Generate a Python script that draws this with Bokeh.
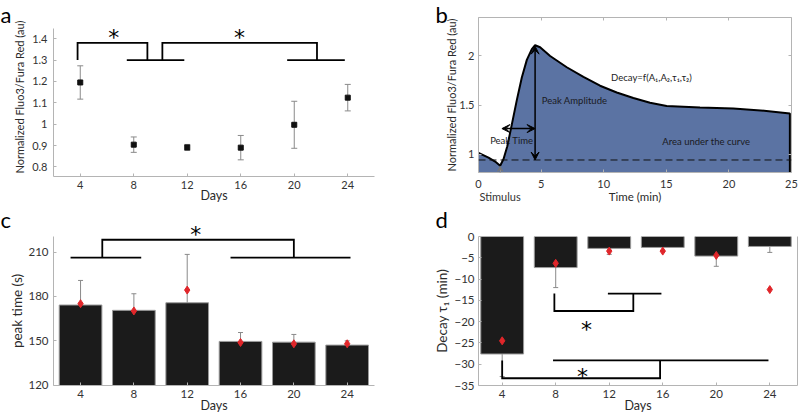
from bokeh.plotting import figure
from bokeh.layouts import gridplot
from bokeh.models import (Range1d, FixedTicker, LinearAxis, Label, Arrow, VeeHead,
                          TeeHead, Whisker, ColumnDataSource, Span)
from bokeh.embed import file_html
from bokeh.resources import INLINE

FONT = "Lato"
STARFONT = "DejaVu Sans"
AXC = "#b4b4b4"
TICKC = "#333333"
ERRC = "#8a8a8a"

# ---------------- data ----------------
days = [4, 8, 12, 16, 20, 24]

# panel a: mean +/- error
a_mean = [1.195, 0.904, 0.891, 0.890, 0.997, 1.124]
a_err = [0.078, 0.036, 0.014, 0.057, 0.110, 0.062]
a_yticks = [0.8, 0.9, 1.0, 1.1, 1.2, 1.3, 1.4]
a_ylabels = ["0.8", "0.9", "1", "1.1", "1.2", "1.3", "1.4"]
a_brackets = [(3.8, 9.02, 1.30, 1.38), (10.14, 21.7, 1.30, 1.38)]
a_groups = [(7.48, 11.78, 1.30), (19.47, 23.78, 1.30)]
a_stars = [(6.5, 1.431), (15.9, 1.431)]

# panel b: example transient
b_time = [0, 0.8, 1.33, 1.73, 2.0, 2.3, 2.66, 3.06, 3.46, 3.86, 4.26, 4.52, 4.92,
          5.72, 7.05, 8.38, 9.71, 11.04, 12.37, 13.7, 15.03, 17.69, 20.35, 23.0, 24.87]
b_ratio = [1.013, 0.964, 0.924, 0.882, 0.95, 1.08, 1.30, 1.55, 1.78, 1.96, 2.07, 2.109, 2.089,
           2.0, 1.885, 1.786, 1.697, 1.628, 1.572, 1.523, 1.49, 1.474, 1.464, 1.44, 1.414]
b_base = 0.94
b_peak_t = 4.52
b_peak = 2.10
b_peak_time_y = 1.26
b_stim_t = 1.73
b_xticks = [0, 5, 10, 15, 20, 25]
b_xlabels = ["0", "5", "10", "15", "20", "25"]
b_yticks = [1, 1.5, 2]
b_ylabels = ["1", "1.5", "2"]

# panel c: peak time
c_bar = [174.2, 170.6, 175.7, 149.6, 149.1, 147.1]
c_mean = [175.1, 170.2, 184.3, 148.9, 148.0, 148.0]
c_err = [16.6, 11.2, 32.7, 6.0, 5.2, 2.9]
c_yticks = [120, 150, 180, 210]
c_brackets = [(5.63, 20.0, 206.2, 218.3)]
c_groups = [(3.25, 8.55, 206.2), (15.25, 24.25, 206.2)]
c_stars = [(12.65, 225.7)]

# panel d: decay tau1
d_bar = [-27.6, -7.3, -2.8, -2.57, -4.6, -2.34]
d_mean = [-24.5, -6.3, -3.43, -3.43, -4.44, -12.47]
d_err = [5.3, 4.7, 1.4, 0.9, 2.4, 1.4]
d_yticks = [0, -5, -10, -15, -20, -25, -30, -35]
d_brackets = [(7.9, 13.8, -13.4, -17.5), (4.0, 15.8, -29.1, -33.3)]
d_groups = [(11.9, 15.9, -13.4), (7.8, 23.9, -29.1)]
d_stars = [(10.3, -20.4), (10.0, -31.5)]

# ---------------- geometry (width, height, frame l, r, t, b, xrange, yrange) ----------------
GA = (400, 205, 53, 374, 17, 177, (2, 26), (0.755, 1.499))
GB = (398, 205, 78, 391, 17, 177, (0, 25), (0.8125, 2.392))
GC = (400, 210, 53, 374, 31, 181, (1.97, 26.05), (119.8, 220.5))
GD = (398, 210, 78, 397, 31, 181, (2.23, 26.07), (-35, 0))


def px2data(g, px, py):
    w, h, fl, fr, ft, fb, xr, yr = g
    x = xr[0] + (px - fl) / (fr - fl) * (xr[1] - xr[0])
    y = yr[1] - (py - ft) / (fb - ft) * (yr[1] - yr[0])
    return x, y


def ypx(g, n):
    w, h, fl, fr, ft, fb, xr, yr = g
    return n * (yr[1] - yr[0]) / (fb - ft)


def make(g):
    w, h, fl, fr, ft, fb, xr, yr = g
    p = figure(width=w, height=h, x_range=Range1d(*xr), y_range=Range1d(*yr),
               min_border_left=fl, min_border_right=w - fr, min_border_top=ft,
               min_border_bottom=h - fb, output_backend="svg", toolbar_location=None, tools="")
    p.xgrid.visible = False
    p.ygrid.visible = False
    p.outline_line_color = None
    p.background_fill_color = "white"
    p.border_fill_color = "white"
    if "frame_align" in p.properties():
        p.frame_align = False
    return p


def style_axis(ax, ticks, overrides=None, font_px=11, label_px=12, lstand=5, astand=3):
    ax.ticker = FixedTicker(ticks=ticks)
    ax.axis_line_color = AXC
    ax.major_tick_line_color = AXC
    ax.major_tick_in = 3
    ax.major_tick_out = 0
    ax.minor_tick_line_color = None
    ax.major_label_text_font = FONT
    ax.major_label_text_font_size = f"{font_px}px"
    ax.major_label_text_color = TICKC
    ax.major_label_text_line_height = 1.0
    ax.major_label_standoff = lstand
    ax.axis_label_text_font = FONT
    ax.axis_label_text_font_size = f"{label_px}px"
    ax.axis_label_text_font_style = "normal"
    ax.axis_label_text_color = "#2a2a2a"
    ax.axis_label_text_line_height = 1.0
    ax.axis_label_standoff = astand
    if overrides:
        ax.major_label_overrides = overrides


def blank_axis(ticks, show_ticks=True):
    ax = LinearAxis(ticker=FixedTicker(ticks=ticks))
    ax.axis_line_color = AXC
    ax.major_tick_line_color = AXC if show_ticks else None
    ax.major_tick_in = 3
    ax.major_tick_out = 0
    ax.minor_tick_line_color = None
    ax.major_label_text_font_size = "0px"
    ax.major_label_text_color = None
    ax.major_label_standoff = 0
    return ax


def add_letter(p, g, letter, px, py_center, side):
    # side-panel label (not clipped by the frame), positioned in data units
    x, y = px2data(g, px, py_center)
    p.add_layout(Label(x=x, y=y, text=letter, text_font=FONT, text_font_size="22px",
                       text_color="black", text_align="left", text_baseline="middle"), side)


def add_brackets(p, brackets, groups):
    xs, ys = [], []
    for xl, xr, yb, yt in brackets:
        xs.append([xl, xl, xr, xr])
        ys.append([yb, yt, yt, yb])
    for x0, x1, yy in groups:
        xs.append([x0, x1])
        ys.append([yy, yy])
    p.multi_line(xs, ys, line_color="black", line_width=1.8, line_join="miter")


def add_stars(p, g, stars, place=None, size=22):
    for sx, sy in stars:
        lab = Label(x=sx, y=sy - ypx(g, 0.27 * size), text="*", text_font=STARFONT,
                    text_font_size=f"{size}px", text_color="black",
                    text_align="center", text_baseline="middle")
        if place:
            p.add_layout(lab, place)
        else:
            p.add_layout(lab)


# ---------------- panel a ----------------
pa = make(GA)
style_axis(pa.xaxis[0], days, font_px=11, label_px=12.5, lstand=4, astand=-4)
style_axis(pa.yaxis[0], a_yticks, dict(zip(a_yticks, a_ylabels)), font_px=11, label_px=11, lstand=6, astand=3)
pa.xaxis[0].axis_label = "Days"
pa.yaxis[0].axis_label = "Normalized Fluo3/Fura Red (au)"
pa.yaxis[0].bounds = (0.755, 1.448)
src_a = ColumnDataSource(dict(x=days, lo=[m - e for m, e in zip(a_mean, a_err)],
                              hi=[m + e for m, e in zip(a_mean, a_err)]))
pa.add_layout(Whisker(source=src_a, base="x", lower="lo", upper="hi", line_color=ERRC, line_width=1,
                      upper_head=TeeHead(size=6, line_color=ERRC, line_width=1),
                      lower_head=TeeHead(size=6, line_color=ERRC, line_width=1)))
pa.scatter(days, a_mean, marker="square", size=5, fill_color="#111111", line_color="#111111")
add_brackets(pa, a_brackets, a_groups)
add_stars(pa, GA, a_stars)
add_letter(pa, GA, "a", 0, 13.7, "right")

# ---------------- panel b ----------------
pb = make(GB)
bx_ticks = b_xticks + [b_stim_t]
bx_over = dict(zip(b_xticks, b_xlabels))
bx_over[b_stim_t] = "\nStimulus"
style_axis(pb.xaxis[0], bx_ticks, bx_over, font_px=11, label_px=11.5, lstand=4, astand=-16)
style_axis(pb.yaxis[0], b_yticks, dict(zip(b_yticks, b_ylabels)), font_px=11, label_px=11, lstand=4, astand=-2)
pb.xaxis[0].axis_label = "Time (min)"
pb.yaxis[0].axis_label = "Normalized Fluo3/Fura Red (au)"
pb.add_layout(blank_axis(b_xticks), "above")
pb.add_layout(blank_axis(b_yticks), "right")
floor = GB[7][0] - 0.2
pb.varea(x=b_time, y1=[floor] * len(b_time), y2=b_ratio, fill_color="#5b73a3")
pb.add_layout(Span(location=b_base, dimension="width", line_color="#111111",
                   line_width=1, line_dash="7 4"))
pb.line(b_time + [b_time[-1]], b_ratio + [floor], line_color="black", line_width=2)
pb.add_layout(Arrow(x_start=b_peak_t, y_start=b_base, x_end=b_peak_t, y_end=b_peak,
                    line_color="black", line_width=1.5,
                    start=VeeHead(size=8, fill_color="black", line_color="black"),
                    end=VeeHead(size=8, fill_color="black", line_color="black")))
pb.add_layout(Arrow(x_start=1.87, y_start=b_peak_time_y, x_end=b_peak_t, y_end=b_peak_time_y,
                    line_color="black", line_width=1.5,
                    start=VeeHead(size=8, fill_color="black", line_color="black"),
                    end=VeeHead(size=8, fill_color="black", line_color="black")))
pb.add_layout(Arrow(x_start=b_stim_t, y_start=GB[7][0] - 0.05, x_end=b_stim_t, y_end=0.875,
                    line_color="#777777", line_width=1,
                    end=VeeHead(size=5, fill_color="#777777", line_color="#777777")))
for txt, tx, ty in [("Peak Time", 0.93, 1.138), ("Peak Amplitude", 5.05, 1.55),
                    ("Decay=f(A\u2081,A\u2082,\u03c4\u2081,\u03c4\u2082)", 10.59, 1.776),
                    ("Area under the curve", 14.68, 1.128)]:
    pb.add_layout(Label(x=tx, y=ty, text=txt, text_font=FONT, text_font_size="9.5px",
                        text_color="#1a1a22", text_align="left", text_baseline="middle"))
add_letter(pb, GB, "b", 35, 13.7, "left")

# ---------------- panel c ----------------
pc = make(GC)
style_axis(pc.xaxis[0], days, font_px=11.5, label_px=12.5, lstand=4, astand=-3)
style_axis(pc.yaxis[0], c_yticks, font_px=11.5, label_px=13.5, lstand=5, astand=0)
pc.xaxis[0].axis_label = "Days"
pc.yaxis[0].axis_label = "peak time (s)"
src_c = ColumnDataSource(dict(x=days, lo=c_bar, hi=[b + e for b, e in zip(c_bar, c_err)]))
pc.add_layout(Whisker(source=src_c, base="x", lower="lo", upper="hi", line_color=ERRC, line_width=1,
                      upper_head=TeeHead(size=5, line_color=ERRC, line_width=1), lower_head=None))
pc.vbar(x=days, width=3.2, bottom=GC[7][0], top=c_bar, fill_color="#1b1b1b", line_color="#9a9a9a", line_width=1)
pc.scatter(days, c_mean, marker="diamond", size=8, fill_color="#e0262a", line_color="#e0262a")
add_brackets(pc, c_brackets, c_groups)
add_stars(pc, GC, c_stars, place="above")
add_letter(pc, GC, "c", 0, 13.7, "right")

# ---------------- panel d ----------------
pd_ = make(GD)
style_axis(pd_.xaxis[0], days, font_px=11.5, label_px=12.5, lstand=4, astand=-3)
style_axis(pd_.yaxis[0], d_yticks, font_px=11.5, label_px=13.5, lstand=4, astand=1)
pd_.xaxis[0].axis_label = "Days"
pd_.yaxis[0].axis_label = "Decay \u03c4\u2081 (min)"
pd_.add_layout(blank_axis(d_yticks, show_ticks=False), "right")
src_d = ColumnDataSource(dict(x=days, lo=[b - e for b, e in zip(d_bar, d_err)], hi=d_bar))
pd_.add_layout(Whisker(source=src_d, base="x", lower="lo", upper="hi", line_color=ERRC, line_width=1,
                       lower_head=TeeHead(size=5, line_color=ERRC, line_width=1), upper_head=None))
pd_.vbar(x=days, width=3.2, bottom=d_bar, top=0, fill_color="#1b1b1b", line_color="#9a9a9a", line_width=1)
pd_.scatter(days, d_mean, marker="diamond", size=8, fill_color="#e0262a", line_color="#e0262a")
add_brackets(pd_, d_brackets, d_groups)
add_stars(pd_, GD, d_stars)
add_letter(pd_, GD, "d", 35, 13.7, "left")

grid = gridplot([[pa, pb], [pc, pd_]], toolbar_location=None)

open("out.html", "w").write(file_html(grid, INLINE))
